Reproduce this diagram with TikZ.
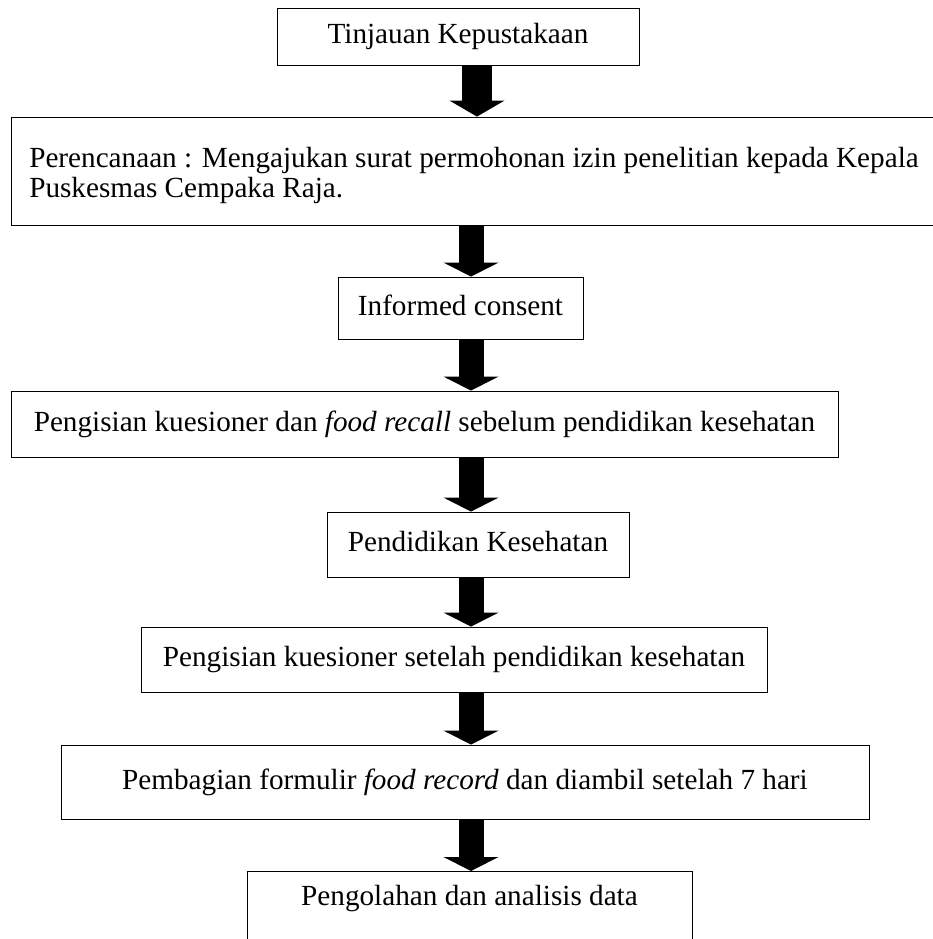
\documentclass[tikz,border=0pt]{standalone}
\usepackage{fontspec}
\setmainfont{Liberation Serif}
\usetikzlibrary{arrows.meta}
\begin{document}
\begin{tikzpicture}[x=1pt,y=-1pt,
    box/.style={draw,line width=0.8pt,inner sep=0pt,font=\fontsize{29.2}{30}\selectfont},
    oneline/.style={text height=20pt,text depth=6pt},
    blockarrow/.style={line width=25pt,-{Triangle[length=14pt,width=55pt,line width=0pt]}}]
    \useasboundingbox (0,0) rectangle (933,939);

    \node[box,oneline,minimum width=362,minimum height=57] (tinjauan) at (458,36.5) {Tinjauan Kepustakaan};
    \node[box,align=left,minimum width=926,minimum height=108] (rencana) at (474,171)
        {\rule{0pt}{30pt}Perencanaan : Mengajukan surat permohonan izin penelitian kepada Kepala\\Puskesmas Cempaka Raja.};
    \node[box,oneline,minimum width=245,minimum height=62] (consent) at (460.5,308) {Informed consent};
    \node[box,oneline,minimum width=827,minimum height=66] (recall) at (424.5,424)
        {Pengisian kuesioner dan \textit{food recall} sebelum pendidikan kesehatan};
    \node[box,oneline,minimum width=302,minimum height=65] (pendidikan) at (478,544.5) {Pendidikan Kesehatan};
    \node[box,oneline,minimum width=626,minimum height=65] (setelah) at (454,659.5)
        {Pengisian kuesioner setelah pendidikan kesehatan};
    \node[box,oneline,minimum width=808,minimum height=74] (pembagian) at (465,782)
        {Pembagian formulir \textit{food record} dan diambil setelah 7 hari};
    \node[box,anchor=north,text height=34pt,text depth=60pt,minimum width=445] (olah) at (469.5,871)
        {Pengolahan dan analisis data};

    \coordinate (axis1) at (477,0);
    \coordinate (axis) at (471,0);
    \draw[blockarrow,line width=30pt,-{Triangle[length=16pt,width=55pt,line width=0pt]}] (tinjauan.south -| axis1) -- (rencana.north -| axis1);
    \draw[blockarrow] (rencana.south -| axis) -- (consent.north -| axis);
    \draw[blockarrow] (consent.south -| axis) -- (recall.north -| axis);
    \draw[blockarrow] (recall.south -| axis) -- (pendidikan.north -| axis);
    \draw[blockarrow] (pendidikan.south -| axis) -- (setelah.north -| axis);
    \draw[blockarrow] (setelah.south -| axis) -- (pembagian.north -| axis);
    \draw[blockarrow] (pembagian.south -| axis) -- (olah.north -| axis);

\end{tikzpicture}
\end{document}
